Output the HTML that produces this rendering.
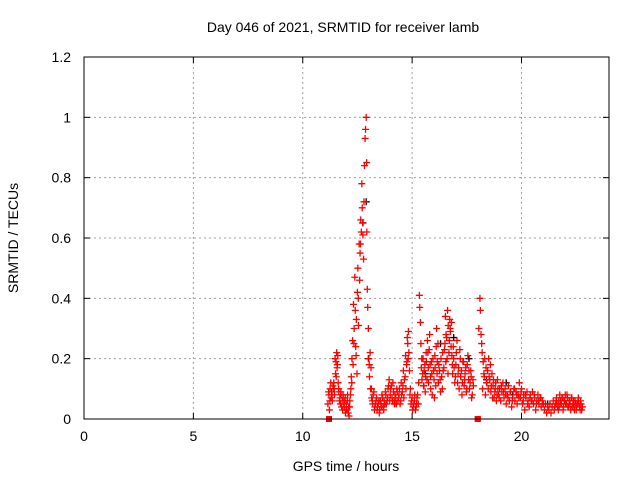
<!DOCTYPE html>
<html><head><meta charset="utf-8"><style>
body{margin:0;background:#fff;}
svg text{font-family:"Liberation Sans",sans-serif;font-size:14px;fill:#000;}
</style></head><body>
<svg id="chart" width="640" height="480" xmlns="http://www.w3.org/2000/svg">
<rect width="640" height="480" fill="#fff"/>
<text x="343" y="32" text-anchor="middle">Day 046 of 2021, SRMTID for receiver lamb</text>
<text x="346" y="471" text-anchor="middle">GPS time / hours</text>
<text transform="translate(18,238) rotate(-90)" text-anchor="middle">SRMTID / TECUs</text>
<g id="grid"></g><g id="ticks"></g><g id="marks"></g>
<rect x="84" y="57" width="525" height="362" fill="none" stroke="#000" stroke-width="1"/>
</svg>
<script>
const xTicks=[0,5,10,15,20];
const yTicks=[0,0.2,0.4,0.6,0.8,1,1.2];
const yTickLabels=["0","0.2","0.4","0.6","0.8","1","1.2"];
const redTimes=[11.15,11.2,11.22,11.25,11.3,11.32,11.35,11.4,11.42,11.45,11.5,11.52,11.55,11.57,11.6,11.62,11.65,11.7,11.72,11.75,11.8,11.82,11.85,11.9,11.92,11.95,12.0,12.02,12.05,12.1,12.12,12.15,12.2,12.22,12.25,12.28,12.3,12.32,12.35,12.38,12.4,12.42,12.45,12.48,12.5,12.52,12.55,12.58,12.6,12.62,12.65,12.68,12.7,12.72,12.75,12.78,12.8,12.82,12.85,12.87,12.9,12.92,12.93,12.95,12.97,13.0,13.02,13.05,13.08,13.1,13.12,13.15,13.2,13.25,13.3,13.35,13.4,13.45,13.5,13.55,13.6,13.65,13.7,13.75,13.8,13.85,13.9,13.95,14.0,14.05,14.1,14.15,14.2,14.25,14.3,14.35,14.4,14.45,14.5,14.55,14.6,14.65,14.7,14.75,14.78,14.8,14.83,14.85,14.88,14.9,14.95,15.0,15.05,15.1,15.15,15.2,15.25,15.3,15.33,15.35,15.38,15.4,15.42,15.45,15.5,15.52,15.55,15.6,15.62,15.65,15.7,15.72,15.75,15.8,15.82,15.85,15.9,15.95,16.0,16.02,16.05,16.1,16.12,16.15,16.2,16.25,16.3,16.35,16.4,16.45,16.5,16.52,16.55,16.6,16.62,16.65,16.7,16.72,16.75,16.78,16.8,16.82,16.85,16.9,16.95,17.0,17.05,17.1,17.15,17.2,17.25,17.3,17.35,17.4,17.45,17.5,17.55,17.6,17.65,17.7,17.75,17.8,18.0,18.05,18.1,18.12,18.15,18.18,18.2,18.25,18.3,18.35,18.4,18.45,18.5,18.55,18.6,18.65,18.7,18.75,18.8,18.85,18.9,18.95,19.0,19.05,19.1,19.15,19.2,19.25,19.3,19.35,19.4,19.45,19.5,19.55,19.6,19.65,19.7,19.75,19.8,19.85,19.9,19.95,20.0,20.05,20.1,20.15,20.2,20.25,20.3,20.35,20.4,20.45,20.5,20.55,20.6,20.65,20.7,20.75,20.8,20.85,20.9,20.95,21.0,21.05,21.1,21.15,21.2,21.25,21.3,21.35,21.4,21.45,21.5,21.55,21.6,21.65,21.7,21.75,21.8,21.85,21.9,21.95,22.0,22.05,22.1,22.15,22.2,22.25,22.3,22.35,22.4,22.45,22.5,22.55,22.6,22.65,22.7,22.75,11.2];
const redValues=[0.05,0.08,0.03,0.1,0.07,0.09,0.06,0.1,0.12,0.08,0.15,0.19,0.22,0.17,0.21,0.12,0.09,0.07,0.05,0.08,0.06,0.03,0.07,0.04,0.06,0.02,0.05,0.03,0.08,0.04,0.01,0.06,0.1,0.14,0.2,0.26,0.18,0.38,0.3,0.47,0.36,0.24,0.33,0.15,0.42,0.5,0.31,0.58,0.46,0.55,0.66,0.62,0.78,0.7,0.61,0.53,0.72,0.84,0.93,0.96,1.0,0.85,0.62,0.43,0.37,0.3,0.2,0.14,0.22,0.1,0.17,0.07,0.05,0.09,0.04,0.06,0.03,0.05,0.02,0.06,0.04,0.07,0.03,0.05,0.08,0.06,0.1,0.13,0.08,0.11,0.06,0.09,0.05,0.07,0.1,0.06,0.08,0.05,0.12,0.09,0.16,0.13,0.21,0.18,0.27,0.25,0.29,0.22,0.16,0.08,0.05,0.07,0.04,0.06,0.03,0.05,0.08,0.12,0.41,0.37,0.32,0.25,0.17,0.13,0.2,0.11,0.16,0.09,0.14,0.19,0.26,0.22,0.12,0.28,0.18,0.1,0.15,0.2,0.13,0.07,0.17,0.24,0.3,0.19,0.12,0.16,0.09,0.14,0.22,0.17,0.25,0.34,0.28,0.2,0.36,0.31,0.26,0.33,0.29,0.24,0.32,0.21,0.15,0.2,0.12,0.18,0.26,0.15,0.1,0.2,0.16,0.12,0.19,0.13,0.17,0.1,0.21,0.16,0.12,0.14,0.08,0.11,0.0,0.3,0.4,0.36,0.28,0.25,0.22,0.19,0.14,0.08,0.12,0.16,0.2,0.13,0.09,0.15,0.11,0.07,0.1,0.06,0.13,0.08,0.1,0.06,0.09,0.12,0.07,0.1,0.05,0.08,0.11,0.06,0.09,0.04,0.07,0.1,0.06,0.09,0.05,0.08,0.12,0.07,0.1,0.05,0.08,0.03,0.07,0.09,0.06,0.04,0.08,0.06,0.09,0.05,0.07,0.03,0.06,0.08,0.05,0.07,0.04,0.06,0.05,0.03,0.05,0.02,0.04,0.03,0.05,0.02,0.04,0.06,0.03,0.05,0.07,0.04,0.06,0.08,0.05,0.07,0.03,0.06,0.08,0.05,0.07,0.04,0.06,0.03,0.07,0.05,0.04,0.06,0.03,0.05,0.07,0.04,0.06,0.03,0.0];
const redTimes2=[11.18,11.24,11.28,11.34,11.38,11.44,11.48,11.53,11.58,11.64,11.68,11.74,11.78,11.84,11.88,11.94,11.98,12.04,12.08,12.14,12.18,12.24,12.34,12.44,12.54,12.64,12.74,13.04,13.14,13.18,13.22,13.28,13.32,13.38,13.42,13.48,13.52,13.58,13.62,13.68,13.72,13.78,13.82,13.88,13.92,13.98,14.02,14.08,14.12,14.18,14.22,14.28,14.32,14.38,14.42,14.48,14.52,14.58,14.62,14.68,14.72,14.76,14.82,14.92,14.98,15.02,15.08,15.12,15.18,15.22,15.28,15.44,15.48,15.54,15.58,15.64,15.68,15.74,15.78,15.84,15.88,15.92,15.98,16.04,16.08,16.14,16.18,16.22,16.28,16.32,16.38,16.42,16.48,16.54,16.58,16.64,16.68,16.74,16.84,16.88,16.92,16.98,17.02,17.08,17.12,17.18,17.22,17.28,17.32,17.38,17.42,17.48,17.52,17.58,17.62,17.68,17.72,17.78,18.22,18.28,18.32,18.38,18.42,18.48,18.52,18.58,18.62,18.68,18.72,18.78,18.82,18.88,18.92,18.98,19.08,19.18,19.28,19.38,19.48,19.58,19.68,19.78,19.88,19.98,20.08,20.18,20.28,20.38,20.48,20.58,20.68,20.78,20.88,20.98,21.52,21.58,21.62,21.68,21.72,21.78,21.82,21.88,21.92,21.98,22.02,22.08,22.12,22.18,22.22,22.28,22.32,22.38,22.42,22.48,22.52,22.58,22.62,22.68,22.72,22.78,18.0];
const redValues2=[0.09,0.06,0.12,0.08,0.11,0.1,0.2,0.14,0.18,0.1,0.06,0.09,0.04,0.08,0.05,0.07,0.03,0.06,0.02,0.04,0.08,0.12,0.25,0.21,0.4,0.58,0.65,0.18,0.1,0.06,0.08,0.03,0.05,0.07,0.04,0.06,0.03,0.05,0.08,0.04,0.06,0.09,0.05,0.07,0.11,0.06,0.1,0.07,0.12,0.06,0.08,0.05,0.09,0.07,0.1,0.06,0.08,0.11,0.07,0.14,0.1,0.19,0.2,0.1,0.06,0.03,0.05,0.08,0.04,0.07,0.05,0.2,0.15,0.11,0.18,0.22,0.13,0.17,0.23,0.14,0.19,0.08,0.16,0.21,0.11,0.15,0.25,0.18,0.13,0.2,0.1,0.16,0.23,0.19,0.27,0.15,0.22,0.3,0.18,0.24,0.17,0.14,0.22,0.12,0.17,0.23,0.14,0.08,0.19,0.11,0.15,0.09,0.18,0.13,0.1,0.16,0.07,0.13,0.1,0.15,0.2,0.17,0.12,0.1,0.14,0.18,0.11,0.07,0.13,0.09,0.12,0.08,0.1,0.07,0.11,0.09,0.08,0.07,0.09,0.06,0.1,0.08,0.07,0.09,0.06,0.08,0.05,0.07,0.06,0.08,0.05,0.06,0.07,0.05,0.04,0.06,0.05,0.03,0.04,0.06,0.05,0.07,0.04,0.06,0.05,0.08,0.04,0.06,0.05,0.07,0.04,0.06,0.03,0.05,0.04,0.06,0.05,0.03,0.05,0.04,0.0];
const blackTimes=[12.9,12.75,13.0,16.3,16.9,17.6,18.4,19.3,19.6,15.6,14.2,21.2];
const blackValues=[0.72,0.65,0.2,0.25,0.27,0.2,0.13,0.12,0.08,0.15,0.05,0.05];
const X=v=>84+v*(525/24);
const Y=v=>419-v*(362/1.2);
const NS="http://www.w3.org/2000/svg";
const grid=document.getElementById('grid'),ticks=document.getElementById('ticks'),marks=document.getElementById('marks');
function mk(tag,attrs,parent){const e=document.createElementNS(NS,tag);for(const k in attrs)e.setAttribute(k,attrs[k]);parent.appendChild(e);return e;}
xTicks.forEach(t=>{
  const x=X(t);
  if(t>0){const g=mk('line',{x1:x,x2:x,y1:57,y2:419,stroke:'#a0a0a0','stroke-dasharray':'2,3'},grid);
  
  }
  mk('line',{x1:x,x2:x,y1:419,y2:413,stroke:'#000'},ticks);
  mk('line',{x1:x,x2:x,y1:57,y2:63,stroke:'#000'},ticks);
  const l=mk('text',{x:x,y:441,'text-anchor':'middle'},ticks);l.textContent=String(t);
  
  
});
yTicks.forEach((t,i)=>{
  const y=Y(t);
  if(i>0&&i<yTicks.length-1){const g=mk('line',{x1:84,x2:609,y1:y,y2:y,stroke:'#a0a0a0','stroke-dasharray':'2,3'},grid);
  
  }
  mk('line',{x1:84,x2:90,y1:y,y2:y,stroke:'#000'},ticks);
  mk('line',{x1:609,x2:603,y1:y,y2:y,stroke:'#000'},ticks);
  const l=mk('text',{x:71,y:y+5,'text-anchor':'end'},ticks);l.textContent=yTickLabels[i];
  
  
});
function plus(t,v,color,name){
  const x=X(t),y=Y(v);
  let p;
  if(v<=0.005){p=mk('rect',{x:x-3,y:y-3,width:6,height:6,fill:color},marks);}
  else{p=mk('path',{d:`M${x-3.5},${y}h7M${x},${y-3.5}v7`,stroke:color,'stroke-width':1.3,fill:'none'},marks);}
  
  
}
blackTimes.forEach((t,i)=>plus(t,blackValues[i],'#000','black-point'));
redTimes.forEach((t,i)=>plus(t,redValues[i],'#f00','red-point'));
redTimes2.forEach((t,i)=>plus(t,redValues2[i],'#f00','red-point'));
</script>
</body></html>
